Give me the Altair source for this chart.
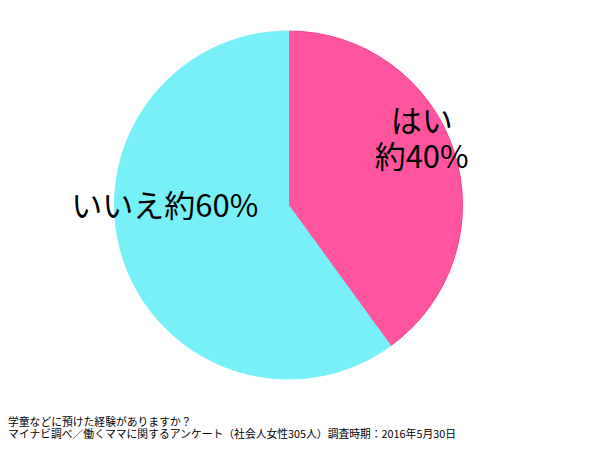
import altair as alt
import pandas as pd

categories = ["はい", "いいえ"]
values = [40, 60]
labels = ["はい\n約40%", "いいえ約60%"]
colors = ["#FF559E", "#78F0F8"]
strokes = ["#FF3D8F", "#78F0F8"]
title_lines = [
    "学童などに預けた経験がありますか？",
    "マイナビ調べ／働くママに関するアンケート（社会人女性305人）調査時期：2016年5月30日",
]

df = pd.DataFrame({"cat": categories, "val": values, "label": labels, "order": [0, 1]})

FONT = "Noto Sans CJK JP"

base = (
    alt.Chart(df)
    .transform_window(end="sum(val)", sort=[alt.SortField("order")], frame=[None, 0])
    .transform_calculate(start="datum.end - datum.val", mid="datum.end - datum.val / 2")
)

arcs = base.mark_arc(outerRadius=174, strokeWidth=1).encode(
    theta=alt.Theta("start:Q", scale=alt.Scale(domain=[0, 100])),
    theta2="end:Q",
    color=alt.Color("cat:N", scale=alt.Scale(domain=categories, range=colors), legend=None),
    stroke=alt.Stroke("cat:N", scale=alt.Scale(domain=categories, range=strokes), legend=None),
)

text_base = base.encode(
    theta=alt.Theta("mid:Q", scale=alt.Scale(domain=[0, 100])),
    text="label:N",
)

yes_text = text_base.transform_filter(alt.datum.cat == "はい").mark_text(
    radius=140, dy=-39, fontSize=31, font=FONT, lineBreak="\n", lineHeight=36, color="#000000"
)

no_text = text_base.transform_filter(alt.datum.cat == "いいえ").mark_text(
    radius=128, dy=-37, dx=-2, fontSize=31, font=FONT, color="#000000"
)

chart = (
    alt.layer(arcs, yes_text, no_text)
    .properties(
        width=561,
        height=394,
        padding=0,
        title=alt.TitleParams(
            text=title_lines,
            orient="bottom",
            anchor="start",
            fontSize=10.8,
            lineHeight=12,
            font=FONT,
            fontWeight="normal",
            color="#000000",
            offset=15,
        ),
    )
    .configure_view(stroke=None)
    .configure(background="#ffffff")
)

chart.save("out.html", embed_options={"renderer": "svg", "actions": False})
